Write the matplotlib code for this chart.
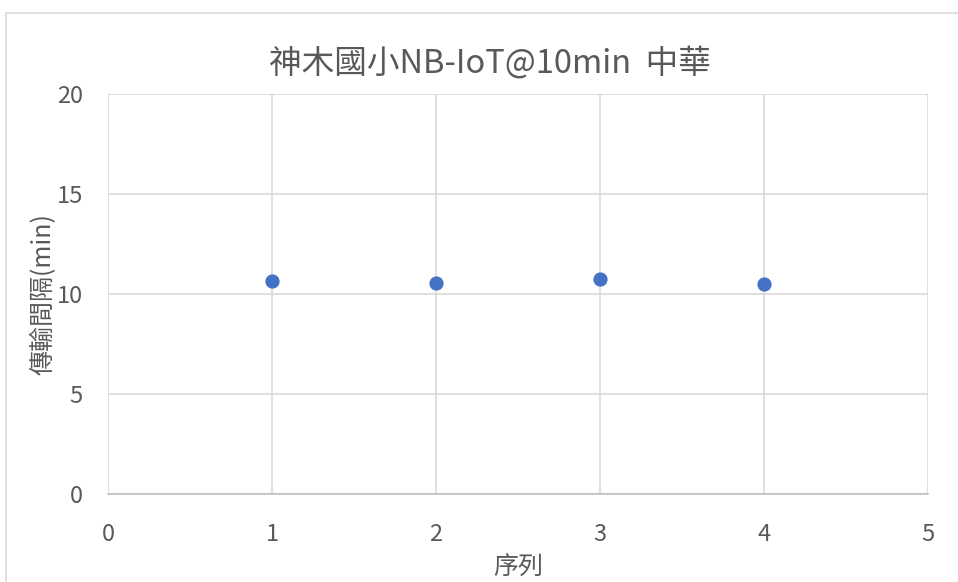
import matplotlib

matplotlib.use("Agg")
import matplotlib.pyplot as plt
from matplotlib.patches import Rectangle

plt.rcParams["font.family"] = ["Noto Sans CJK TC", "DejaVu Sans"]

# data
seq = [1, 2, 3, 4]
interval_min = [10.65, 10.55, 10.75, 10.5]
x_ticks = [0, 1, 2, 3, 4, 5]
y_ticks = [0, 5, 10, 15, 20]

TEXT = "#595959"
GRID = "#d9d9d9"

fig = plt.figure(figsize=(9.58, 5.82), dpi=100)
fig.patches.append(
    Rectangle((6 / 958, -0.1), 1.2, 1 - 13 / 582 + 0.1, transform=fig.transFigure,
              fill=False, edgecolor="#d9d9d9", linewidth=1.2)
)
ax = fig.add_axes([108 / 958, 88 / 582, 820 / 958, 400 / 582])

ax.scatter(seq, interval_min, s=105, color="#4472C4", zorder=3, linewidths=0)

ax.set_xlim(0, 5)
ax.set_ylim(0, 20)
ax.set_xticks(x_ticks)
ax.set_yticks(y_ticks)
ax.grid(True, color=GRID, linewidth=1.2)
ax.set_axisbelow(True)
for side in ["top", "right", "left"]:
    ax.spines[side].set_visible(False)
ax.spines["bottom"].set_color("#bfbfbf")
ax.spines["bottom"].set_linewidth(1.2)
ax.tick_params(length=0, labelsize=17, labelcolor=TEXT)
ax.tick_params(axis="x", pad=21)
ax.tick_params(axis="y", pad=18)

# chart title is centred on the chart frame, not the plot area
fig.text(490 / 958, 1 - 63 / 582, "神木國小NB-IoT@10min  中華", fontsize=23.5,
         color=TEXT, ha="center", va="center")
ax.set_xlabel("序列", fontsize=18, color=TEXT, labelpad=6)
ax.set_ylabel("傳輸間隔(min)", fontsize=18, color=TEXT, labelpad=0)

fig.savefig("out.png", dpi=100)
